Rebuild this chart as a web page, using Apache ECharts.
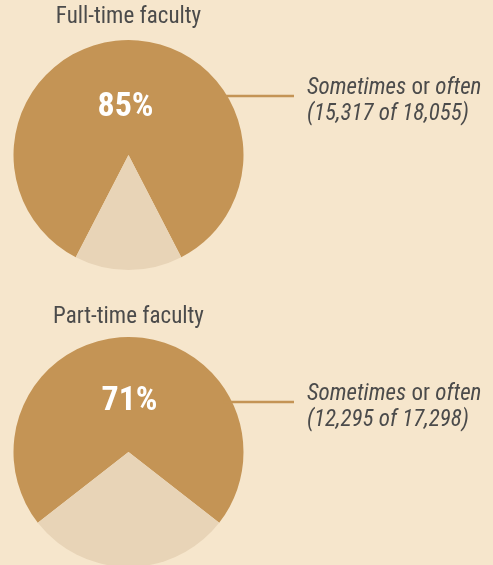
<!DOCTYPE html>
<html><head><meta charset="utf-8">
<script src="https://cdn.jsdelivr.net/npm/echarts@6/dist/echarts.min.js"></script>
<style>html,body{margin:0;padding:0;background:#f6e6cc;}#c{width:493px;height:565px;}</style>
</head><body><div id="c"></div>
<script>
const groups = ['Full-time faculty', 'Part-time faculty'];
const sometimesOften = [15317, 12295];
const totals = [18055, 17298];

const FONT = '"Roboto Condensed","Liberation Sans",sans-serif';
const MAIN = '#c49455';
const LIGHT = '#e8d4b7';
const TEXT = '#4b4b4b';
const centers = [[128.5, 155], [128.5, 452]];
const R = 115;
const titleY = [17.5, 317];
const pctPos = [[125.5, 107], [129.5, 401.5]];
const lineY = [96, 402];
const labelY = [101.5, 407.5];

const chart = echarts.init(document.getElementById('c'), null, {renderer: 'canvas'});
const series = [];
const graphic = [];
const fmt = n => n.toLocaleString('en-US');
groups.forEach((g, i) => {
  const yes = sometimesOften[i], rest = totals[i] - yes;
  const lightFrac = rest / totals[i];
  series.push({
    type: 'pie', silent: true, animation: false, z: 1,
    center: centers[i], radius: R,
    startAngle: 270 - lightFrac * 180, clockwise: true,
    label: {show: false}, labelLine: {show: false},
    itemStyle: {borderWidth: 0},
    data: [
      {name: 'Sometimes or often', value: yes, itemStyle: {color: MAIN}},
      {name: 'Rarely or never', value: rest, itemStyle: {color: LIGHT}}
    ]
  });
  const cx = centers[i][0];
  graphic.push({
    type: 'text', silent: true, z: 100, x: cx, y: titleY[i],
    style: {text: g, fill: TEXT, font: '23px ' + FONT, align: 'center', verticalAlign: 'middle'}
  });
  graphic.push({
    type: 'text', silent: true, z: 100, x: pctPos[i][0], y: pctPos[i][1],
    style: {text: Math.round(yes / totals[i] * 100) + '%', fill: '#ffffff', font: 'bold 34px ' + FONT, align: 'center', verticalAlign: 'middle'}
  });
  graphic.push({
    type: 'line', silent: true, z: 100,
    shape: {x1: cx + 95, y1: lineY[i], x2: 294, y2: lineY[i]},
    style: {stroke: MAIN, lineWidth: 2.5}
  });
  graphic.push({
    type: 'text', silent: true, z: 100, x: 307, y: labelY[i],
    style: {
      text: '{i|Sometimes} {n|or} {i|often}\n{i|(' + fmt(yes) + ' of ' + fmt(totals[i]) + ')}',
      fill: TEXT, font: '23px ' + FONT, lineHeight: 26, verticalAlign: 'middle',
      rich: {
        i: {fontStyle: 'italic', fontSize: 23, fontFamily: '"Roboto Condensed","Liberation Sans",sans-serif', fill: TEXT, lineHeight: 26},
        n: {fontSize: 23, fontFamily: '"Roboto Condensed","Liberation Sans",sans-serif', fill: TEXT, lineHeight: 26}
      }
    }
  });
});

chart.setOption({backgroundColor: '#f6e6cc', animation: false, series, graphic});
</script></body></html>
